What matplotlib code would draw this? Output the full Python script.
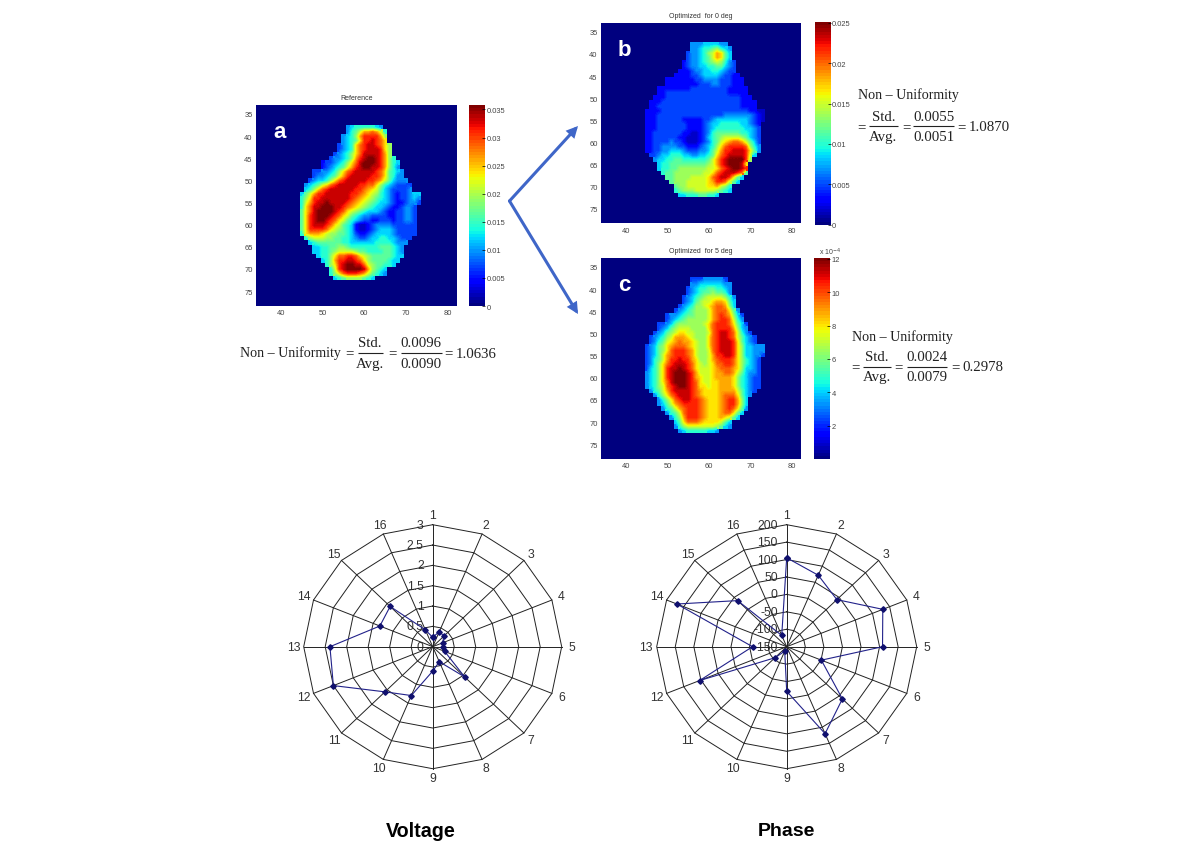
import numpy as np
import matplotlib
matplotlib.use("Agg")
import matplotlib.pyplot as plt

plt.rcParams["font.family"] = ["Liberation Sans", "DejaVu Sans"]

W, H = 1197, 853

# left edge (x index) of every row of the maps, first row is y = 38
first_row = 38
row_left = [56, 56, 55, 55, 54, 54, 53, 52, 50, 50, 48, 48, 47, 46, 46, 45, 45, 45,
            45, 45, 45, 45, 45, 45, 45, 46, 47, 48, 48, 49, 50, 51, 52, 52, 53]

# one hex digit per cell, 0 = map minimum, F = map maximum
map_a = [
    "456666654",
    "4679BBCB96",
    "4568BDDDDB8",
    "4567ADDEDCA",
    "3456ACDEEDCA8",
    "3456ACDEEEDA8",
    "34568ACEEEEDB8",
    "344568BDEFFEDB86",
    "2334568ACEFFFEDB865",
    "2345679BDEFFEEDB864",
    "3344568ACDEEEEEDCA7654",
    "3445679BDEEEEEDDCA7644",
    "345568ACDEEEEEDDCB975444",
    "45679ACDEEEEEDDCCA86543333",
    "568ACDEEEEEEDDCBA975433334",
    "579BDDEEEEEEDDCBA986543233455",
    "68ADDEEEEEEEDCBA9876543233454",
    "69BDEEFEEEEDCBA98765543223443",
    "6ACEEFFFEEDCBA98765543223443",
    "7ACEFFFFEDCA9876555432233443",
    "7ADEFFFEDCA97654433332233443",
    "7ADEFFEDCA976543322333233443",
    "7ADEEEDCA9765211234444333333",
    "7ADDDDCA98765211234555433333",
    "6ABBBA9887765322345555433333",
    "68999887766543345566554333",
    "567777776655555566665444",
    "5566778876666666777654",
    "5566789999877666677654",
    "5668ACCDDCA9877777655",
    "568BDDEEDCA87777655",
    "68ADEFFEEC9877665",
    "69DEFFFFEB8765",
    "68ACDDDCB97654",
    "5678888765",
]
map_b = [
    "444555544",
    "4456678654",
    "3445689BA75",
    "3445679BA75",
    "2344567898643",
    "2344556677543",
    "22234455665433",
    "2222334555543322",
    "2222222334444333222",
    "2222222233344333222",
    "2222222233333333322222",
    "2233333333333333322222",
    "222333333333333333333222",
    "22233333333333333333332222",
    "22333333333333333333332222",
    "22223333333333333333333332211",
    "22233333333333333334444444321",
    "22233333322222334555555554321",
    "2223333333222234556666655432",
    "2223333333222234566666665543",
    "2233333332211234677777766543",
    "2233333322111235678999987543",
    "2233334332111234679ABCCB9753",
    "223344443322234568ACDDDDC864",
    "223344555433344579BDDEEEDA74",
    "3345566655445567ACDEEEED95",
    "455667766666679BDEFFFFD8",
    "56677777777789BDEFFFEA",
    "56677888888899ACDEFFED",
    "677888888899ACDEEEDC7",
    "7788889999ACDEEDA75",
    "788899999ABDDC975",
    "78899999AAB986",
    "67888999998765",
    "5566677665",
]
map_c = [
    "333444443",
    "4455555544",
    "34566776654",
    "34567787764",
    "3456789999864",
    "3457899ABBA75",
    "3456889ABCCB85",
    "345678889BCCCA74",
    "34456778889BCDCB853",
    "34567888889BCDDC964",
    "334578888889ACDDDCA753",
    "345789998888ACDDDDB854",
    "345789AA998889CDEEDC9643",
    "345689BBBA9888ACDEEDC97543",
    "34679ABCBBA988ACDEEEDA7543",
    "34578ABCCCBA988ACDEEEDA855444",
    "34578ACDDDCB9889CDEEEDA855444",
    "34579BCDDDCB9889BDDEEDA855443",
    "34679BDDEDDBA889BCDDDCA86543",
    "3468ACDEEEDCA989ACCDDCA86543",
    "3568ADEEFEDCA999ABCCCBA85543",
    "4568ADEFFFEDB999ABBCCB975443",
    "4568ADEFFFEDBA99ABBBBA865433",
    "4568ACEFFFEDCA99AABBBA865433",
    "45689CDEFFEDCAA9AABBBA865433",
    "4679BDEEEEDCBAAAABBBB97543",
    "468ACDEEEDCBAAAABCCCA754",
    "468ACDEEDDCBAAABCDDB85",
    "4579BCDDDDCBAAABCDDB85",
    "4679BCDDDCBAAABCDCA74",
    "4679CDDDCBAAABCCA75",
    "468BDDDCBAAABA975",
    "57ACCCBAAAA975",
    "46899999998754",
    "4566666554",
]

map_titles = ["Reference", "Optimized  for 0 deg", "Optimized  for 5 deg"]
map_letters = ["a", "b", "c"]
map_vmax = [0.0358, 0.0251, 12.06]
cbar_ticks_a = [0, 0.005, 0.01, 0.015, 0.02, 0.025, 0.03, 0.035]
cbar_labels_a = ["0", "0.005", "0.01", "0.015", "0.02", "0.025", "0.03", "0.035"]
cbar_ticks_b = [0, 0.005, 0.01, 0.015, 0.02, 0.025]
cbar_labels_b = ["0", "0.005", "0.01", "0.015", "0.02", "0.025"]
cbar_ticks_c = [2, 4, 6, 8, 10, 12]
cbar_labels_c = ["2", "4", "6", "8", "10", "12"]
x_ticks = [40, 50, 60, 70, 80]
y_ticks = [35, 40, 45, 50, 55, 60, 65, 70, 75]

spoke_labels = [str(i) for i in range(1, 17)]
voltage = [0.23, 0.40, 0.37, 0.25, 0.24, 0.30, 1.05, 0.40,
           0.60, 1.30, 1.57, 2.50, 2.39, 1.33, 1.40, 0.45]
phase = [105, 72, 41, 130, 108, -49, 62, 120,
         -22, -136, -105, 104, -58, 170, 37, -115]
voltage_rings = [0.5, 1, 1.5, 2, 2.5, 3]
voltage_ring_labels = ["0", "0.5", "1", "1.5", "2", "2.5", "3"]
phase_rings = [-100, -50, 0, 50, 100, 150, 200]
phase_ring_labels = ["-150", "-100", "-50", "0", "50", "100", "150", "200"]

fig = plt.figure(figsize=(W / 100, H / 100), dpi=100, facecolor="white")


def px_axes(x0, y0, x1, y1, **kw):
    return fig.add_axes([x0 / W, 1 - y1 / H, (x1 - x0) / W, (y1 - y0) / H], **kw)


def to_grid(rows):
    grid = np.zeros((47, 50))
    inside = np.zeros((47, 50), dtype=bool)
    for i, row in enumerate(rows):
        for j, ch in enumerate(row):
            grid[first_row + i - 33, row_left[i] + j - 34] = int(ch, 16) / 15
            inside[first_row + i - 33, row_left[i] + j - 34] = True
    return grid, inside


def draw_map(rows, box, cbox, vmax, title, letter, ticks, labels):
    ax = px_axes(*box)
    grid, inside = to_grid(rows)
    cmap = plt.get_cmap("jet", 64)
    ext = (33.5, 83.5, 79.5, 32.5)
    # blocky outline first, smooth inside on top of it
    im = ax.imshow(grid * vmax, cmap=cmap, vmin=0, vmax=vmax, extent=ext, aspect="auto",
                   interpolation="nearest")
    ax.imshow(np.ma.masked_where(~inside, grid * vmax), cmap=cmap, vmin=0, vmax=vmax, extent=ext,
              aspect="auto", interpolation="bilinear")
    ax.set_xlim(34, 82.2)
    ax.set_ylim(78.3, 33)
    ax.set_xticks(x_ticks)
    ax.set_yticks(y_ticks)
    ax.tick_params(length=0, labelsize=5.4, labelcolor="#444444", pad=2.5)
    for s in ax.spines.values():
        s.set_visible(False)
    ax.set_title(title, fontsize=5, color="#333333", pad=4)
    ax.text(0.115, 0.84, letter, transform=ax.transAxes, color="white", fontsize=16,
            fontweight="bold", ha="center", va="baseline")
    cax = px_axes(*cbox)
    cb = fig.colorbar(im, cax=cax)
    cb.set_ticks(ticks)
    cb.set_ticklabels(labels)
    cb.minorticks_off()
    cb.outline.set_visible(False)
    cax.tick_params(direction="in", length=2, width=0.5, labelsize=5.4, labelcolor="#444444", pad=1)
    return cax


draw_map(map_a, (256, 106, 456.7, 306.7), (469, 106, 485, 307), map_vmax[0],
         map_titles[0], map_letters[0], cbar_ticks_a, cbar_labels_a)
draw_map(map_b, (601, 24, 801, 224.3), (815, 23, 830.7, 225.7), map_vmax[1],
         map_titles[1], map_letters[1], cbar_ticks_b, cbar_labels_b)
draw_map(map_c, (601, 259, 801, 460), (814, 259, 830, 460), map_vmax[2],
         map_titles[2], map_letters[2], cbar_ticks_c, cbar_labels_c)

# overlay in pixel coordinates for arrows and equations
over = px_axes(0, 0, W, H)
over.set_xlim(0, W)
over.set_ylim(H, 0)
over.axis("off")
over.patch.set_visible(False)

for tip in [(578, 127), (578, 315)]:
    over.annotate("", xy=tip, xytext=(509.5, 202),
                  arrowprops=dict(arrowstyle="-|>,head_width=0.25,head_length=0.5", color="#3f66c8",
                                  lw=2.2, shrinkA=0, shrinkB=0, joinstyle="miter"))

over.text(830, 252, r"x 10$^{-4}$", fontsize=5, color="#444444", ha="center", va="center")

serif = dict(fontsize=10.7, color="#222222", family="Liberation Serif", va="center")
name_style = dict(serif, fontsize=10.1)


def fraction(x0, x1, y, top, bottom):
    over.plot([x0, x1], [y, y], color="#222222", lw=0.8, solid_capstyle="butt")
    over.text((x0 + x1) / 2, y - 10.2, top, ha="center", **serif)
    over.text((x0 + x1) / 2, y + 10.2, bottom, ha="center", **serif)


def equation(y, eq_x, bar1, bar2, value_x, avg, std, value):
    for x in eq_x:
        over.text(x, y, "=", ha="center", **serif)
    fraction(bar1[0], bar1[1], y, "Std.", "Avg.")
    fraction(bar2[0], bar2[1], y, std, avg)
    over.text(value_x, y, value, ha="left", **serif)


over.text(239.5, 353, "Non \u2013 Uniformity", ha="left", **name_style)
equation(354, [349, 392.7, 448.5], (357.7, 382.7), (400.7, 441.7), 455.7, "0.0090", "0.0096", "1.0636")
over.text(858, 95, "Non \u2013 Uniformity", ha="left", **name_style)
equation(127.3, [861.7, 906, 961.7], (869, 897.7), (913.3, 954), 968.3, "0.0051", "0.0055", "1.0870")
over.text(851.7, 336.7, "Non \u2013 Uniformity", ha="left", **name_style)
equation(367.7, [855.5, 898, 955], (862.7, 890.7), (907.3, 947.3), 962.3, "0.0079", "0.0024", "0.2978")

over.text(420.5, 832, "Voltage", fontsize=14.2, fontweight="bold", color="black", ha="center", va="center")
over.text(786.5, 832, "Phase", fontsize=14, fontweight="bold", color="black", ha="center", va="center")


def draw_radar(box, values, rmin, rings, ring_labels, ring_ticks, label_shift):
    ax = px_axes(*box, projection="polar")
    ax.set_aspect("auto")
    ax.set_theta_zero_location("N")
    ax.set_theta_direction(-1)
    rmax = rings[-1]
    ax.set_ylim(rmin, rmax)
    ax.grid(False)
    ax.set_xticks([])
    ax.set_yticks([])
    ax.spines["polar"].set_visible(False)
    ax.patch.set_visible(False)
    theta = np.arange(len(values)) * 2 * np.pi / len(values)
    closed = np.append(theta, theta[0])
    for t in theta:
        ax.plot([t, t], [rmin, rmax], color="#222222", lw=0.7, clip_on=False)
    for r in rings:
        ax.plot(closed, [r] * len(closed), color="#222222", lw=0.7, clip_on=False)
    ax.plot(closed, np.append(values, values[0]), color="#22228a", lw=0.8, clip_on=False,
            marker="D", markersize=2.8, markerfacecolor="#10106e", markeredgecolor="#10106e")
    span = rmax - rmin
    for t, lab in zip(theta, spoke_labels):
        ax.text(t, rmin + span * 1.08, lab, fontsize=8.8, color="#333333", ha="center", va="center")
    for v, lab in zip(ring_ticks, ring_labels):
        ax.annotate(lab, xy=(0, v), xytext=(label_shift, 0), textcoords="offset pixels",
                    fontsize=8.8, color="#333333", ha="right", va="center", zorder=0.5,
                    annotation_clip=False)
    return ax


draw_radar((303.7, 525.7, 561.7, 769.7), voltage, 0, voltage_rings, voltage_ring_labels,
           [0] + voltage_rings, -9)
draw_radar((656.7, 525.7, 916.7, 769.7), phase, -150, phase_rings, phase_ring_labels,
           [-150] + phase_rings, -9)

fig.savefig("out.png", dpi=100)
